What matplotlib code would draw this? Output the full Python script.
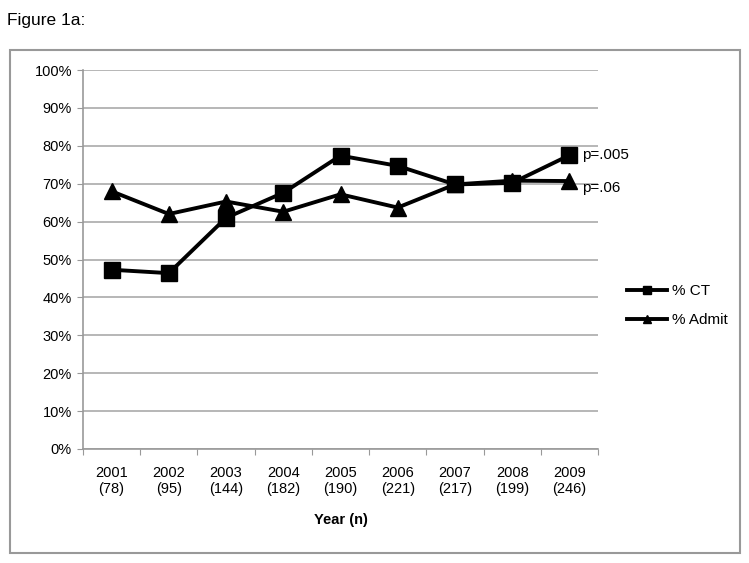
import matplotlib
matplotlib.use("Agg")
import matplotlib.pyplot as plt
from matplotlib.patches import Rectangle
from matplotlib.ticker import FuncFormatter

plt.rcParams['font.family'] = ['Liberation Sans', 'DejaVu Sans']

years = ["2001", "2002", "2003", "2004", "2005", "2006", "2007", "2008", "2009"]
counts = ["78", "95", "144", "182", "190", "221", "217", "199", "246"]
pct_ct = [47.3, 46.4, 61.0, 67.6, 77.4, 74.7, 69.8, 70.2, 77.5]
pct_admit = [68.0, 62.0, 65.3, 62.6, 67.2, 63.7, 69.8, 70.8, 70.7]
p_labels = ["p=.005", "p=.06"]

fig = plt.figure(figsize=(7.49, 5.63), dpi=100)
ax = fig.add_axes([83/749, 1-449/563, (598-83)/749, (449-70)/563])

x = list(range(len(years)))
ax.plot(x, pct_ct, color='black', lw=2.8, marker='s', ms=11, label='% CT', zorder=3)
ax.plot(x, pct_admit, color='black', lw=2.8, marker='^', ms=11, label='% Admit', zorder=3)

ax.set_xlim(-0.5, len(years) - 0.5)
ax.set_ylim(0, 100)
ax.set_yticks(range(0, 101, 10))
ax.yaxis.set_major_formatter(FuncFormatter(lambda v, p: f"{int(v)}%"))
ax.set_xticks([i - 0.5 for i in range(len(years) + 1)])
ax.set_xticklabels([])
ax.set_xticks(x, minor=True)
ax.set_xticklabels([f"{y}\n({c})" for y, c in zip(years, counts)], minor=True, fontsize=10.5)
ax.tick_params(axis='x', which='minor', length=0, pad=12)
ax.tick_params(axis='x', which='major', length=4, color='#999999', direction='out')
ax.tick_params(axis='y', length=4, color='#999999', labelsize=10.5, pad=4)
ax.grid(axis='y', color='#aaaaaa', lw=1.2, zorder=0)
for s in ['top', 'right']:
    ax.spines[s].set_visible(False)
for s in ['left', 'bottom']:
    ax.spines[s].set_color('#999999')
    ax.spines[s].set_linewidth(1.2)

ax.set_xlabel("Year (n)", fontweight='bold', fontsize=10.5, labelpad=12)

ax.text(len(years) - 1 + 0.22, pct_ct[-1], p_labels[0], fontsize=11, va='center', ha='left')
ax.text(len(years) - 1 + 0.22, pct_admit[-1] - 1.8, p_labels[1], fontsize=11, va='center', ha='left')

ax.legend(loc='center left', bbox_to_anchor=(1.03, 0.378), frameon=False, fontsize=11,
          handlelength=2.6, markerscale=0.5, labelspacing=1.0, handletextpad=0.3)

fig.text(7/749, 1-20/563, "Figure 1a:", fontsize=12.5, va='center', ha='left')
fig.patches.append(Rectangle((10/749, 1-553/563), (740-10)/749, (553-50)/563,
                             transform=fig.transFigure, fill=False, edgecolor='#999999', lw=1.5))

fig.savefig("out.png", dpi=100)
